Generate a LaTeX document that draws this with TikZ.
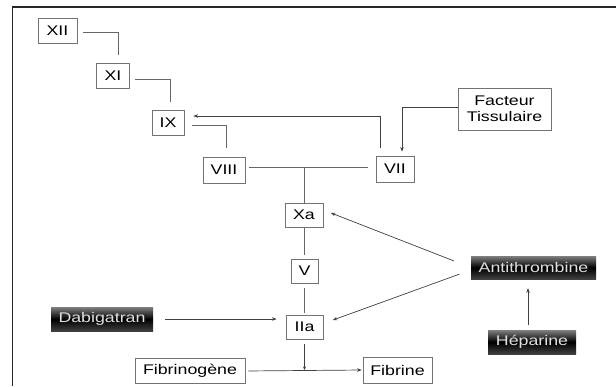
\documentclass[tikz,border=0pt]{standalone}
\usepackage{fontspec}
\setmainfont{Liberation Sans}[FakeStretch=1.27]
\usetikzlibrary{arrows.meta,calc}
\begin{document}
\begin{tikzpicture}[x=1pt,y=-1pt,
  box/.style={draw=black!55,line width=0.8pt,fill=white,inner sep=0pt,align=center,font=\fontsize{14}{16}\selectfont},
  dark/.style={inner sep=0pt,top color=black!50,bottom color=black!75,middle color=black,text=white!88!black,font=\fontsize{14}{16}\selectfont},
  conn/.style={draw=black!60,line width=0.9pt},
  arr/.style={draw=black!75,line width=0.7pt,-{Stealth[length=4.5pt,width=3.5pt]}}]
\useasboundingbox (0,0) rectangle (616,386);
\fill[white] (0,0) rectangle (616,386);
\draw[line width=1.3pt,black!85] (12.5,386) -- (12.5,7) -- (616,7);
% nodes
\node[box,minimum width=39,minimum height=25] (XII) at (57.5,30.5) {XII};
\node[box,minimum width=33,minimum height=25] (XI) at (113,75.5) {XI};
\node[box,minimum width=32,minimum height=25] (IX) at (168,122.5) {IX};
\node[box,minimum width=42,minimum height=26] (VIII) at (224,170) {VIII};
\node[box,minimum width=38,minimum height=26] (VII) at (395,169) {VII};
\node[box,minimum width=93,minimum height=42] (FT) at (504.5,109) {Facteur\\Tissulaire};
\node[box,minimum width=38,minimum height=24] (Xa) at (304,215) {Xa};
\node[box,minimum width=27,minimum height=24] (V) at (304.5,271) {V};
\node[box,minimum width=37,minimum height=24] (IIa) at (304.5,327) {IIa};
\node[box,minimum width=110,minimum height=25] (Fg) at (190,370.5) {Fibrinogène};
\node[box,minimum width=69,minimum height=26] (Fb) at (397.5,370) {Fibrine};
\node[dark,minimum width=102,minimum height=24] (Dab) at (102,319) {Dabigatran};
\node[dark,minimum width=125,minimum height=23] (AT) at (533.5,267.5) {Antithrombine};
\node[dark,minimum width=88,minimum height=24] (Hep) at (532,342) {Héparine};
\coordinate (j1) at (304.5,167);
\coordinate (j2) at (304.5,370);
% connectors
\draw[conn,shorten <=6pt,shorten >=8pt] ([yshift=-1.5pt]XII.east) -| ([xshift=5pt]XI.north);
\draw[conn,shorten <=5pt,shorten >=8pt] ([yshift=-3.5pt]XI.east) -| ([xshift=2pt]IX.north);
\draw[conn,shorten <=8pt,shorten >=9pt] ([yshift=-2.5pt]IX.east) -| ([xshift=2pt]VIII.north);
\draw[conn,shorten <=4pt,shorten >=8pt] ([yshift=3pt]VIII.east) -- ([yshift=2pt]VII.west);
\draw[conn] (j1) -- (j1 |- Xa.north);
\draw[conn,shorten <=1pt,shorten >=4pt] (V.north |- Xa.south) -- (V.north);
\draw[conn,shorten <=5pt,shorten >=2pt] (V.south) -- (IIa.north);
\draw[arr,shorten <=5pt,-{Stealth[length=3.5pt,width=3pt]}] (IIa.south) -- (j2);
\draw[arr,shorten <=3pt,shorten >=1pt] ([yshift=-0.5pt]Fg.east) -- (Fb.west);
\draw[arr,shorten <=8pt,shorten >=9pt] ([xshift=-15pt]VII.north) |- ([yshift=6.5pt]IX.east);
\draw[arr,shorten >=4pt] ([yshift=2pt]FT.west) -| ([xshift=7pt]VII.north);
\draw[arr,shorten <=12pt,shorten >=9pt] (Dab.east) -- (Dab.east -| IIa.west);
\draw[arr,shorten <=18pt,shorten >=8pt] (AT.west) -- ([yshift=5pt]Xa.east);
\draw[arr,shorten <=12pt,shorten >=10pt] ([yshift=-2.5pt]AT.west) -- ([yshift=3.5pt]IIa.east);
\draw[arr,shorten <=5pt,shorten >=9pt] ([xshift=-4pt]Hep.north) -- ([xshift=-5.5pt]AT.south);
\end{tikzpicture}
\end{document}
